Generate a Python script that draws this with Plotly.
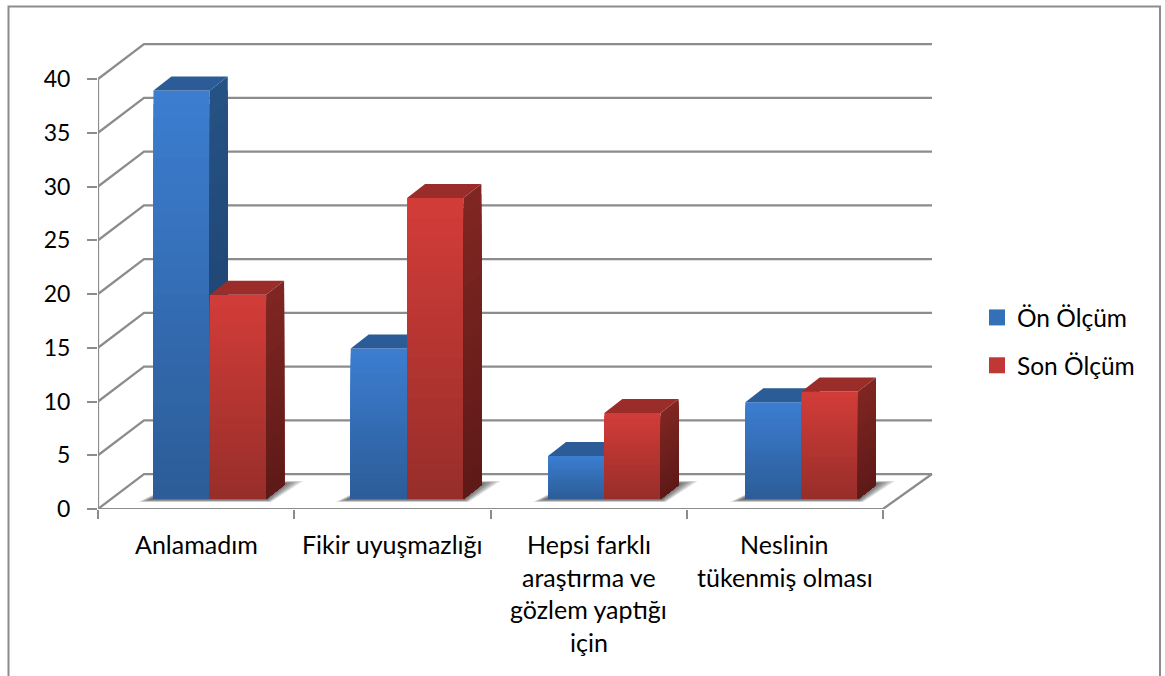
import plotly.graph_objects as go

# Chart data
categories = ["Anlamadım", "Fikir uyuşmazlığı", "Hepsi farklı\naraştırma ve\ngözlem yaptığı\niçin", "Neslinin\ntükenmiş olması"]
on_olcum = [38, 14, 4, 9]
son_olcum = [19, 28, 8, 10]
y_ticks = [0, 5, 10, 15, 20, 25, 30, 35, 40]

# Page geometry of the plot area
W, H = 1165, 676
LEFT, BOTTOM, RIGHT, TOP = 98, 509, 935, 40
PX_X = 196.25   # pixels per category
PX_Y = 10.75    # pixels per value unit
FONT = "Lato"
FS = 25
GRID = "#8c8c8c"

dx = lambda px: px / PX_X
dy = lambda px: px / PX_Y
paper_x = lambda px: (px - LEFT) / (RIGHT - LEFT)
paper_y = lambda py: (BOTTOM - py) / (BOTTOM - TOP)

# Oblique projection: wall depth, column depth, column placement
WALL_DX, WALL_DY = dx(46), dy(35)
COL_DX, COL_DY = dx(18), dy(14)
BASE = 0.93
COL_W = 0.287
FIRST_LEFT = 0.2825
GROUP_STEP = 1.0053
BANDS = 30


def lerp_color(c0, c1, t):
    return "rgb(%d,%d,%d)" % tuple(round(a + (b - a) * t) for a, b in zip(c0, c1))


def walls_and_shadows():
    shapes = []
    n = len(categories)
    wall_end = dx(834)
    for v in y_ticks:
        shapes.append(dict(type="path", layer="below", xref="x", yref="y",
                           path=f"M0,{v} L{WALL_DX},{v + WALL_DY} L{wall_end},{v + WALL_DY}",
                           line=dict(color=GRID, width=2.25)))
    # Floor edges and the front axis lines
    shapes.append(dict(type="path", layer="below", xref="x", yref="y",
                       path=f"M0,{y_ticks[-1]} L0,0 L{n},0 L{wall_end},{WALL_DY}",
                       line=dict(color=GRID, width=2.25)))
    # Soft floor shadows, built from nested translucent polygons
    for i in range(n):
        x0 = FIRST_LEFT + i * GROUP_STEP
        x1 = x0 + 2 * COL_W
        for inset in range(0, 12, 2):
            a = (x0 + dx(-15 + inset), BASE - dy(3 - inset * 0.2))
            b = (x1 + dx(5 - inset * 0.4), BASE - dy(3 - inset * 0.2))
            c = (x1 + dx(37 - inset * 1.6), BASE + dy(18 - inset * 0.2))
            d = (x0 + dx(27), BASE + dy(18 - inset * 0.2))
            path = "M" + " L".join(f"{p[0]},{p[1]}" for p in (a, b, c, d)) + " Z"
            shapes.append(dict(type="path", layer="below", xref="x", yref="y", path=path,
                               fillcolor="rgba(0,0,0,0.12)", line=dict(width=0)))
    # Outer chart frame, open at the bottom of the page
    shapes.append(dict(type="path", layer="below", xref="paper", yref="paper",
                       path=(f"M{paper_x(8.5)},{paper_y(H)} L{paper_x(8.5)},{paper_y(6.5)} "
                             f"L{paper_x(1160)},{paper_y(6.5)} L{paper_x(1160)},{paper_y(H)}"),
                       line=dict(color="#8c8c8c", width=2)))
    return shapes


def add_series(fig, name, values, left_offset, front, side, top, swatch, xa, ya):
    lefts = [FIRST_LEFT + i * GROUP_STEP + left_offset for i in range(len(values))]
    # Front faces: each column is repainted with shrinking height to form a vertical gradient
    xs, heights, colors = [], [], []
    for left, v in zip(lefts, values):
        for k in range(BANDS):
            xs.append(left + COL_W / 2)
            heights.append(v * (1 - k / BANDS))
            colors.append(lerp_color(front[0], front[1], k / (BANDS - 1)))
    fig.add_trace(go.Bar(x=xs, y=heights, base=BASE, width=COL_W, marker=dict(color=colors, line=dict(width=0)),
                         showlegend=False, hoverinfo="skip", xaxis=xa, yaxis=ya))
    # Side faces: painted top-down so that each band overlaps the next one
    for k in range(BANDS):
        px, py = [], []
        for left, v in zip(lefts, values):
            r = left + COL_W
            hi = BASE + v * (1 - k / BANDS)
            px += [r, r + COL_DX, r + COL_DX, r, r, None]
            py += [hi, hi + COL_DY, BASE + COL_DY, BASE, hi, None]
        c = lerp_color(side[0], side[1], k / (BANDS - 1))
        fig.add_trace(go.Scatter(x=px, y=py, mode="lines", fill="toself", fillcolor=c, line=dict(width=0),
                                 showlegend=False, hoverinfo="skip", xaxis=xa, yaxis=ya))
    # Top faces
    px, py = [], []
    for left, v in zip(lefts, values):
        t = BASE + v
        px += [left, left + COL_W, left + COL_W + COL_DX, left + COL_DX, left, None]
        py += [t, t, t + COL_DY, t + COL_DY, t, None]
    fig.add_trace(go.Scatter(x=px, y=py, mode="lines", fill="toself", fillcolor=top, line=dict(width=0),
                             showlegend=False, hoverinfo="skip", xaxis=xa, yaxis=ya))
    # Legend entry
    fig.add_trace(go.Scatter(x=[None], y=[None], mode="markers", name=name, legendgroup=name,
                             marker=dict(symbol="square", size=16, color=swatch), xaxis=xa, yaxis=ya))


fig = go.Figure()
add_series(fig, "Ön Ölçüm", on_olcum, 0.0, ((60, 125, 208), (44, 93, 152)), ((37, 82, 132), (28, 62, 102)),
           "#2b5c97", "#3470b8", "x", "y")
add_series(fig, "Son Ölçüm", son_olcum, COL_W, ((210, 60, 56), (152, 46, 42)), ((128, 38, 34), (94, 26, 24)),
           "#9a2d2a", "#bf3835", "x2", "y2")

annotations = []
for i, label in enumerate(categories):
    for j, line in enumerate(label.split("\n")):
        annotations.append(dict(text=line, x=i + 0.5, xref="x", yref="paper", y=paper_y(544 + j * 32.7),
                                yanchor="middle", xanchor="center", showarrow=False,
                                font=dict(family=FONT, size=FS, color="black")))

x_range = [0, (RIGHT - LEFT) / PX_X]
y_range = [0, (BOTTOM - TOP) / PX_Y]
fig.update_layout(
    width=W, height=H, autosize=False, margin=dict(l=LEFT, r=W - RIGHT, t=TOP, b=H - BOTTOM),
    paper_bgcolor="white", plot_bgcolor="rgba(0,0,0,0)", barmode="overlay",
    font=dict(family=FONT, size=FS, color="black"),
    shapes=walls_and_shadows(), annotations=annotations,
    xaxis=dict(range=x_range, showgrid=False, zeroline=False, showline=False, showticklabels=False, ticks="",
               minor=dict(tickmode="array", tickvals=list(range(len(categories) + 1)), ticks="outside",
                          ticklen=9, tickwidth=2, tickcolor=GRID, showgrid=False)),
    yaxis=dict(range=y_range, tickmode="array", tickvals=y_ticks, ticks="outside", ticklen=10, tickwidth=2,
               tickcolor=GRID, showgrid=False, zeroline=False, showline=False, ticklabelstandoff=12,
               tickfont=dict(family=FONT, size=23, color="black")),
    xaxis2=dict(range=x_range, overlaying="x", visible=False),
    yaxis2=dict(range=y_range, overlaying="y", visible=False),
    legend=dict(x=paper_x(977), y=paper_y(295), xanchor="left", yanchor="top", tracegroupgap=13,
                bgcolor="rgba(0,0,0,0)", font=dict(family=FONT, size=24.5, color="black")),
)

fig.write_html("out.html")
